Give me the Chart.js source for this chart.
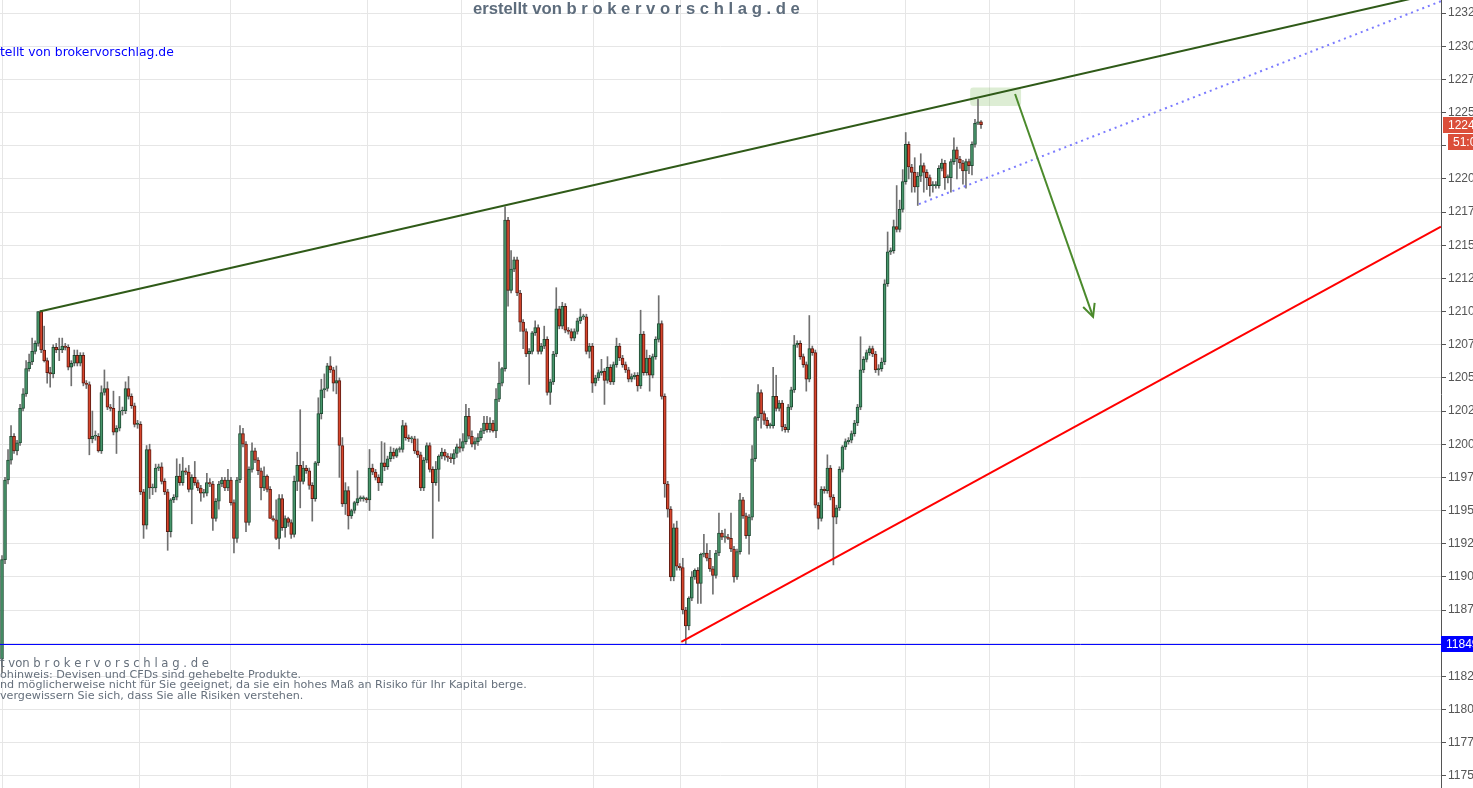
<!DOCTYPE html>
<html>
<head>
<meta charset="utf-8">
<script src="https://cdn.jsdelivr.net/npm/chart.js@4.4.1/dist/chart.umd.min.js"></script>
<style>
  html, body { margin: 0; padding: 0; background: #fff; overflow: hidden; }
  #wrap { width: 1473px; height: 788px; position: relative; }
</style>
</head>
<body>
<div id="wrap"><canvas id="chart"></canvas></div>
<script>
// candle data (one candle per session step)
const opens = [
  11838, 11913, 11973, 11988, 12006, 11995, 12001, 12027, 12038, 12057,
  12062, 12070, 12076, 12100, 12071, 12063, 12054, 12053, 12073, 12071,
  12071, 12074, 12073, 12058, 12061, 12067, 12061, 12067, 12046, 12045,
  12004, 12006, 12006, 11995, 12039, 12042, 12028, 12027, 12009, 12012,
  12025, 12025, 12042, 12036, 12029, 12015, 12015, 11964, 11939, 11996,
  11967, 11967, 11982, 11983, 11972, 11964, 11934, 11958, 11960, 11976,
  11971, 11980, 11979, 11966, 11975, 11971, 11967, 11963, 11963, 11971,
  11970, 11944, 11957, 11970, 11973, 11967, 11973, 11956, 11929, 11973,
  12008, 12000, 11941, 11981, 11995, 11988, 11980, 11967, 11976, 11966,
  11944, 11943, 11929, 11959, 11937, 11944, 11941, 11932, 11972, 11984,
  11972, 11982, 11980, 11969, 11959, 11986, 12023, 12041, 12042, 12059,
  12056, 12046, 12048, 11999, 11955, 11965, 11946, 11950, 11956, 11959,
  11959, 11959, 11958, 11982, 11979, 11975, 11971, 11986, 11983, 11989,
  11994, 11991, 11996, 11996, 12014, 12005, 12004, 12004, 11995, 11992,
  11967, 11988, 11999, 11981, 11971, 11981, 11991, 11994, 11991, 11990,
  11989, 11993, 11998, 11997, 12002, 12021, 12006, 12000, 12002, 12005,
  12010, 12016, 12011, 12016, 12010, 12034, 12046, 12057, 12169, 12116,
  12132, 12139, 12114, 12092, 12085, 12068, 12070, 12084, 12088, 12070,
  12074, 12079, 12039, 12047, 12068, 12102, 12089, 12104, 12086, 12085,
  12080, 12085, 12093, 12096, 12096, 12070, 12074, 12046, 12050, 12054,
  12055, 12048, 12058, 12047, 12060, 12074, 12065, 12060, 12056, 12049,
  12051, 12052, 12044, 12083, 12054, 12065, 12052, 12066, 12079, 12091,
  12036, 11970, 11951, 11900, 11937, 11908, 11907, 11875, 11863, 11884,
  11900, 11905, 11895, 11917, 11918, 11914, 11906, 11901, 11918, 11933,
  11930, 11930, 11929, 11921, 11900, 11919, 11958, 11946, 11931, 11945,
  11989, 12020, 12039, 12023, 12018, 12014, 12014, 12036, 12027, 12031,
  12013, 12011, 12028, 12041, 12075, 12076, 12066, 12060, 12049, 12072,
  12069, 11954, 11944, 11966, 11965, 11982, 11960, 11945, 11952, 11981,
  11998, 12002, 12003, 12008, 12016, 12028, 12056, 12064, 12069, 12072,
  12068, 12056, 12057, 12062, 12121, 12145, 12146, 12164, 12162, 12177,
  12198, 12226, 12209, 12205, 12194, 12202, 12210, 12205, 12201, 12195,
  12195, 12195, 12208, 12212, 12201, 12201, 12213, 12222, 12215, 12212,
  12206, 12213, 12210, 12226, 12242, 12243
];
const highs = [
  11916, 11975, 11996, 12014, 12008, 12003, 12030, 12042, 12063, 12068,
  12080, 12078, 12100, 12101, 12089, 12065, 12058, 12075, 12076, 12080,
  12080, 12076, 12075, 12063, 12071, 12071, 12069, 12069, 12048, 12047,
  12025, 12010, 12008, 12044, 12056, 12047, 12030, 12040, 12014, 12036,
  12028, 12047, 12051, 12038, 12031, 12018, 12017, 11966, 11999, 12000,
  11970, 11985, 11985, 11986, 11974, 11966, 11959, 11962, 11989, 11985,
  11990, 11982, 11984, 11977, 11987, 11973, 11969, 11966, 11978, 11974,
  11972, 11959, 11972, 11975, 11975, 11981, 11975, 11958, 11975, 12014,
  12012, 12002, 11983, 12001, 11997, 11990, 11982, 11983, 11977, 11968,
  11946, 11958, 11962, 11962, 11946, 11945, 11943, 11976, 11994, 12026,
  11987, 11984, 11982, 11971, 11987, 12035, 12049, 12053, 12061, 12066,
  12058, 12059, 12050, 12005, 11971, 11968, 11951, 11957, 11980, 11961,
  11961, 11960, 11996, 11985, 11981, 11977, 12002, 12001, 11991, 11998,
  11997, 11997, 11998, 12018, 12016, 12007, 12006, 12006, 12004, 11994,
  11990, 12001, 12001, 11983, 11987, 11992, 11997, 11996, 11993, 11993,
  11996, 12000, 12004, 12008, 12030, 12027, 12010, 12005, 12008, 12012,
  12021, 12021, 12020, 12018, 12042, 12062, 12058, 12179, 12171, 12146,
  12141, 12141, 12116, 12094, 12087, 12072, 12085, 12093, 12090, 12076,
  12089, 12081, 12049, 12070, 12118, 12104, 12107, 12106, 12088, 12087,
  12087, 12095, 12102, 12098, 12098, 12076, 12076, 12052, 12056, 12064,
  12057, 12066, 12060, 12062, 12080, 12076, 12067, 12062, 12058, 12053,
  12054, 12054, 12101, 12085, 12071, 12067, 12068, 12081, 12112, 12093,
  12038, 11972, 11953, 11940, 11942, 11910, 11914, 11877, 11885, 11904,
  11906, 11907, 11918, 11932, 11925, 11920, 11908, 11920, 11948, 11935,
  11936, 11932, 11948, 11923, 11921, 11963, 11960, 11948, 11947, 11999,
  12021, 12045, 12041, 12025, 12020, 12016, 12058, 12052, 12033, 12033,
  12015, 12030, 12043, 12082, 12078, 12078, 12068, 12062, 12097, 12074,
  12071, 11956, 11968, 11968, 11992, 11984, 11962, 11954, 11983, 11999,
  12004, 12005, 12010, 12018, 12030, 12081, 12066, 12071, 12074, 12074,
  12070, 12060, 12065, 12124, 12160, 12148, 12169, 12195, 12184, 12207,
  12235, 12228, 12211, 12216, 12205, 12219, 12212, 12207, 12203, 12198,
  12198, 12210, 12215, 12214, 12203, 12215, 12231, 12224, 12217, 12214,
  12215, 12215, 12228, 12245, 12260, 12244
];
const lows = [
  11828, 11910, 11970, 11985, 11993, 11992, 11999, 12025, 12036, 12055,
  12060, 12068, 12074, 12069, 12062, 12046, 12043, 12050, 12069, 12063,
  12069, 12071, 12056, 12044, 12059, 12059, 12059, 12044, 12042, 11992,
  12001, 12003, 11994, 11993, 12037, 12026, 12025, 12007, 11993, 12010,
  12022, 12023, 12034, 12027, 12013, 12012, 11962, 11929, 11936, 11959,
  11962, 11964, 11980, 11970, 11962, 11920, 11930, 11956, 11958, 11969,
  11969, 11977, 11964, 11940, 11969, 11965, 11957, 11960, 11961, 11968,
  11935, 11942, 11951, 11968, 11965, 11965, 11954, 11918, 11926, 11971,
  11998, 11934, 11939, 11979, 11986, 11977, 11958, 11965, 11964, 11944,
  11942, 11928, 11921, 11935, 11930, 11938, 11929, 11930, 11965, 11952,
  11970, 11978, 11966, 11942, 11957, 11984, 12019, 12035, 12040, 12054,
  12040, 12038, 11975, 11953, 11947, 11936, 11944, 11948, 11954, 11957,
  11957, 11956, 11950, 11977, 11973, 11965, 11969, 11980, 11981, 11987,
  11989, 11990, 11994, 11994, 12003, 12002, 12001, 11993, 11990, 11965,
  11965, 11986, 11979, 11929, 11969, 11957, 11989, 11988, 11987, 11986,
  11985, 11990, 11994, 11995, 12000, 12004, 11998, 11996, 11999, 12003,
  12008, 12009, 12009, 12009, 12005, 12032, 12044, 12055, 12104, 12114,
  12130, 12112, 12085, 12072, 12066, 12045, 12068, 12082, 12068, 12068,
  12072, 12037, 12030, 12045, 12066, 12087, 12087, 12084, 12083, 12078,
  12078, 12083, 12091, 12094, 12068, 12065, 12039, 12044, 12048, 12052,
  12030, 12046, 12045, 12045, 12058, 12063, 12058, 12054, 12047, 12047,
  12049, 12040, 12042, 12052, 12052, 12040, 12050, 12064, 12077, 12034,
  11960, 11945, 11897, 11897, 11905, 11905, 11872, 11849, 11860, 11882,
  11898, 11880, 11880, 11915, 11912, 11904, 11887, 11899, 11916, 11928,
  11926, 11928, 11919, 11896, 11898, 11917, 11944, 11929, 11917, 11943,
  11987, 12018, 12012, 12015, 12012, 12012, 12012, 12025, 12025, 12010,
  12009, 12009, 12026, 12039, 12073, 12064, 12058, 12040, 12047, 12067,
  11952, 11936, 11942, 11963, 11963, 11958, 11909, 11940, 11950, 11979,
  11996, 12000, 12001, 12006, 12014, 12026, 12054, 12062, 12067, 12066,
  12054, 12052, 12055, 12060, 12119, 12143, 12144, 12160, 12160, 12175,
  12196, 12200, 12190, 12190, 12180, 12198, 12190, 12192, 12187, 12190,
  12193, 12193, 12206, 12192, 12197, 12190, 12211, 12200, 12208, 12196,
  12193, 12204, 12203, 12224, 12241, 12238
];
const closes = [
  11913, 11973, 11988, 12006, 11995, 12001, 12027, 12038, 12057, 12062,
  12070, 12076, 12100, 12071, 12063, 12054, 12053, 12073, 12071, 12071,
  12074, 12073, 12058, 12061, 12067, 12061, 12067, 12046, 12045, 12004,
  12006, 12006, 11995, 12039, 12042, 12028, 12027, 12009, 12012, 12025,
  12025, 12042, 12036, 12029, 12015, 12015, 11964, 11939, 11996, 11967,
  11967, 11982, 11983, 11972, 11964, 11934, 11958, 11960, 11976, 11971,
  11980, 11979, 11966, 11975, 11971, 11967, 11963, 11963, 11971, 11970,
  11944, 11957, 11970, 11973, 11967, 11973, 11956, 11929, 11973, 12008,
  12000, 11941, 11981, 11995, 11988, 11980, 11967, 11976, 11966, 11944,
  11943, 11929, 11959, 11937, 11944, 11941, 11932, 11972, 11984, 11972,
  11982, 11980, 11969, 11959, 11986, 12023, 12041, 12042, 12059, 12056,
  12046, 12048, 11999, 11955, 11965, 11946, 11950, 11956, 11959, 11959,
  11959, 11958, 11982, 11979, 11975, 11971, 11986, 11983, 11989, 11994,
  11991, 11996, 11996, 12014, 12005, 12004, 12004, 11995, 11992, 11967,
  11988, 11999, 11981, 11971, 11981, 11991, 11994, 11991, 11990, 11989,
  11993, 11998, 11997, 12002, 12021, 12006, 12000, 12002, 12005, 12010,
  12016, 12011, 12016, 12010, 12034, 12046, 12057, 12169, 12116, 12132,
  12139, 12114, 12092, 12085, 12068, 12070, 12084, 12088, 12070, 12074,
  12079, 12039, 12047, 12068, 12102, 12089, 12104, 12086, 12085, 12080,
  12085, 12093, 12096, 12096, 12070, 12074, 12046, 12050, 12054, 12055,
  12048, 12058, 12047, 12060, 12074, 12065, 12060, 12056, 12049, 12051,
  12052, 12044, 12083, 12054, 12065, 12052, 12066, 12079, 12091, 12036,
  11970, 11951, 11900, 11937, 11908, 11907, 11875, 11863, 11884, 11900,
  11905, 11895, 11917, 11918, 11914, 11906, 11901, 11918, 11933, 11930,
  11930, 11929, 11921, 11900, 11919, 11958, 11946, 11931, 11945, 11989,
  12020, 12039, 12023, 12018, 12014, 12014, 12036, 12027, 12031, 12013,
  12011, 12028, 12041, 12075, 12076, 12066, 12060, 12049, 12072, 12069,
  11954, 11944, 11966, 11965, 11982, 11960, 11945, 11952, 11981, 11998,
  12002, 12003, 12008, 12016, 12028, 12056, 12064, 12069, 12072, 12068,
  12056, 12057, 12062, 12121, 12145, 12146, 12164, 12162, 12177, 12198,
  12226, 12209, 12205, 12194, 12202, 12210, 12205, 12201, 12195, 12195,
  12195, 12208, 12212, 12201, 12201, 12213, 12222, 12215, 12212, 12206,
  12213, 12210, 12226, 12242, 12243, 12241
];

// right axis ticks
const priceTicks = [
  11750, 11775, 11800, 11825, 11850, 11875, 11900, 11925, 11950, 11975,
  12000, 12025, 12050, 12075, 12100, 12125, 12150, 12175, 12200, 12225,
  12250, 12275, 12300, 12325
];
// vertical session lines, in candle index units
const sessionBreaks = [0.3, 45.5, 75.7, 121.2, 152.4, 196.5, 225.1, 270.6, 299.8, 327.7, 356.2, 384.5, 433.3];

// drawings: [candle index, price]
const resistanceLine = [[12.5, 12100], [477.7, 12341]];
const supportLine = [[225.5, 11851], [477.7, 12164]];
const channelLine = [[304.4, 12181], [477.7, 12334]];
const arrowLine = [[336.3, 12264], [362.2, 12096]];
const targetZone = { x0: 321.4, x1: 338.3, y0: 12255, y1: 12269 };
const supportLevel = 11849;
const timerText = '51:03';

const xMin = -0.664, xMax = 477.7;
const yMin = 11740.8, yMax = 12334.9;

const upFill = '#47966b', upLine = '#1f4b33';
const dnFill = '#d7452c', dnLine = '#5e1b12';

const toPts = arr => arr.map(p => ({ x: p[0], y: p[1] }));

const wickData = closes.map((c, i) => ({ x: i, y: [lows[i], highs[i]] }));
const bodyData = closes.map((c, i) => ({ x: i, y: [opens[i], c] }));
const bodyFill = closes.map((c, i) => c >= opens[i] ? upFill : dnFill);
const bodyLine = closes.map((c, i) => c >= opens[i] ? upLine : dnLine);

function priceBox(ctx, yPix, x0, text, bg) {
  ctx.fillStyle = bg;
  ctx.fillRect(x0, Math.round(yPix) - 8, 1473 - x0, 16);
  ctx.fillStyle = '#fff';
  ctx.font = '12px "Liberation Sans", Arial, sans-serif';
  ctx.textAlign = 'left';
  ctx.textBaseline = 'middle';
  ctx.fillText(text, x0 + 5, Math.round(yPix) + 0.5);
}

// pick a font size so the text spans the given width
function fitText(ctx, text, weight, family, width) {
  ctx.font = weight + ' 10px ' + family;
  const size = 10 * width / ctx.measureText(text).width;
  ctx.font = weight + ' ' + size.toFixed(2) + 'px ' + family;
}

const overlay = {
  id: 'overlay',
  beforeDatasetsDraw(chart) {
    const { ctx, scales: { x, y } } = chart;
    // light green target zone
    const l = x.getPixelForValue(targetZone.x0), r = x.getPixelForValue(targetZone.x1);
    const t = y.getPixelForValue(targetZone.y1), b = y.getPixelForValue(targetZone.y0);
    ctx.save();
    ctx.fillStyle = 'rgba(150, 200, 120, 0.32)';
    ctx.beginPath();
    ctx.roundRect(l, t, r - l, b - t, 3);
    ctx.fill();
    ctx.restore();
  },
  afterDatasetsDraw(chart) {
    const { ctx, scales: { x, y } } = chart;
    // arrowhead at the end of the green arrow
    const x1 = x.getPixelForValue(arrowLine[0][0]), y1 = y.getPixelForValue(arrowLine[0][1]);
    const x2 = x.getPixelForValue(arrowLine[1][0]), y2 = y.getPixelForValue(arrowLine[1][1]);
    const ang = Math.atan2(y2 - y1, x2 - x1);
    ctx.save();
    ctx.strokeStyle = '#4b8a2c';
    ctx.lineWidth = 2;
    ctx.beginPath();
    ctx.moveTo(x2 - 14 * Math.cos(ang - 0.45), y2 - 14 * Math.sin(ang - 0.45));
    ctx.lineTo(x2, y2);
    ctx.lineTo(x2 - 14 * Math.cos(ang + 0.45), y2 - 14 * Math.sin(ang + 0.45));
    ctx.stroke();
    ctx.restore();
  },
  afterDraw(chart) {
    const { ctx, scales: { y } } = chart;
    ctx.save();
    // price labels on the axis
    const last = closes[closes.length - 1];
    const yLast = y.getPixelForValue(last);
    priceBox(ctx, yLast, 1443, String(last), '#db4f3a');
    priceBox(ctx, yLast + 17, 1448, timerText, '#db4f3a');
    priceBox(ctx, y.getPixelForValue(supportLevel), 1441, String(supportLevel), '#0000ff');

    // watermark at the top
    ctx.fillStyle = '#5d6c7c';
    ctx.textAlign = 'left';
    ctx.textBaseline = 'middle';
    fitText(ctx, 'erstellt von b r o k e r v o r s c h l a g . d e', 'bold', '"Liberation Sans", Arial, sans-serif', 327);
    ctx.fillText('erstellt von b r o k e r v o r s c h l a g . d e', 473, 9);

    // blue note at top left
    ctx.fillStyle = '#0000ff';
    fitText(ctx, 'tellt von brokervorschlag.de', 'normal', '"DejaVu Sans", Verdana, sans-serif', 174);
    ctx.fillText('tellt von brokervorschlag.de', 0, 53);

    // disclaimer lines
    ctx.fillStyle = '#66707c';
    const fam = '"DejaVu Sans", Verdana, sans-serif';
    fitText(ctx, 't von b r o k e r v o r s c h l a g . d e', 'normal', fam, 209);
    ctx.fillText('t von b r o k e r v o r s c h l a g . d e', 0, 664);
    fitText(ctx, 'nd möglicherweise nicht für Sie geeignet, da sie ein hohes Maß an Risiko für Ihr Kapital berge.', 'normal', fam, 527);
    ctx.fillText('ohinweis: Devisen und CFDs sind gehebelte Produkte.', 0, 675);
    ctx.fillText('nd möglicherweise nicht für Sie geeignet, da sie ein hohes Maß an Risiko für Ihr Kapital berge.', 0, 685.5);
    ctx.fillText('vergewissern Sie sich, dass Sie alle Risiken verstehen.', 0, 696);
    ctx.restore();
  }
};

new Chart(document.getElementById('chart'), {
  type: 'bar',
  data: {
    datasets: [
      { type: 'bar', data: wickData, backgroundColor: '#707070', barThickness: 1, grouped: false, order: 5 },
      { type: 'bar', data: bodyData, backgroundColor: bodyFill, borderColor: bodyLine, borderWidth: 1,
        borderSkipped: false, barThickness: 3, grouped: false, minBarLength: 1, order: 4 },
      { type: 'line', data: toPts([[xMin, supportLevel], [xMax, supportLevel]]), borderColor: '#0000ff',
        borderWidth: 1, pointRadius: 0, order: 3 },
      { type: 'line', data: toPts(channelLine), borderColor: 'rgba(110, 110, 255, 0.9)', borderWidth: 2,
        borderDash: [2, 4], pointRadius: 0, order: 2 },
      { type: 'line', data: toPts(supportLine), borderColor: '#ff0000', borderWidth: 2, pointRadius: 0, order: 1 },
      { type: 'line', data: toPts(resistanceLine), borderColor: '#2f5a18', borderWidth: 2, pointRadius: 0, order: 1 },
      { type: 'line', data: toPts(arrowLine), borderColor: '#4b8a2c', borderWidth: 2, pointRadius: 0, order: 0 }
    ]
  },
  options: {
    responsive: true,
    maintainAspectRatio: false,
    animation: false,
    layout: { padding: 0 },
    plugins: { legend: { display: false }, tooltip: { enabled: false } },
    scales: {
      x: {
        type: 'linear', min: xMin, max: xMax, offset: false,
        grid: { color: '#e6e6e6', drawTicks: false, offset: false },
        border: { display: false },
        ticks: { display: false },
        afterBuildTicks: s => { s.ticks = sessionBreaks.map(v => ({ value: v })); },
        afterFit: s => { s.height = 0; }
      },
      y: {
        type: 'linear', position: 'right', min: yMin, max: yMax,
        grid: { color: '#e6e6e6', tickColor: '#555', tickLength: 5 },
        border: { display: true, color: '#555' },
        ticks: {
          color: '#555', padding: 2,
          font: { family: '"Liberation Sans", Arial, sans-serif', size: 12 },
          callback: v => String(v)
        },
        afterBuildTicks: s => { s.ticks = priceTicks.map(v => ({ value: v })); },
        afterFit: s => { s.width = 32; s.paddingTop = 0; s.paddingBottom = 0; }
      }
    }
  },
  plugins: [overlay]
});
</script>
</body>
</html>
